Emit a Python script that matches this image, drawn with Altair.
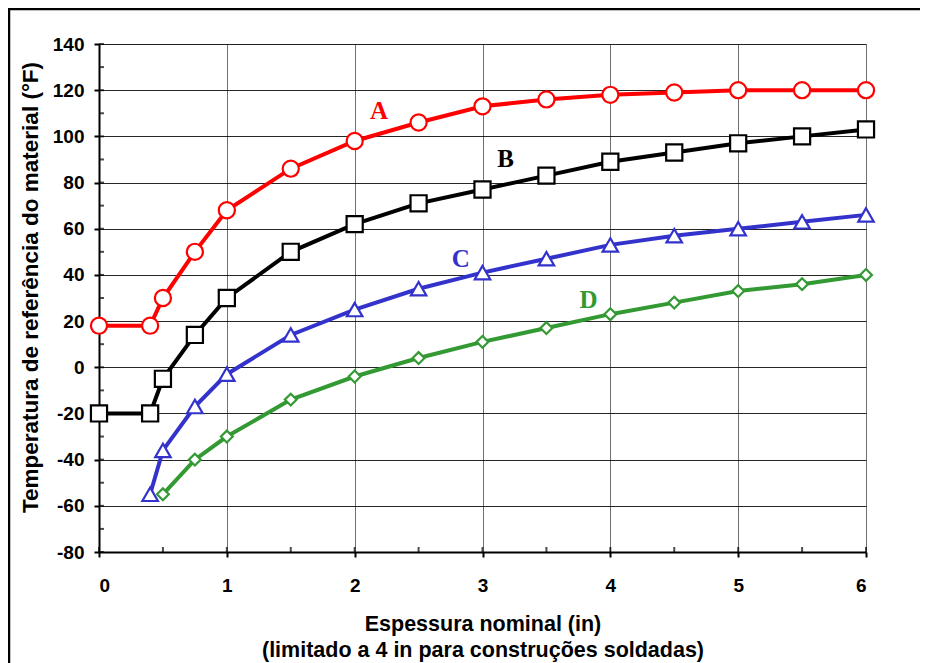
import altair as alt
import pandas as pd

x_a = [0, 0.4, 0.5, 0.75, 1, 1.5, 2, 2.5, 3, 3.5, 4, 4.5, 5, 5.5, 6]
y_a = [18, 18, 30, 50, 68, 86, 98, 106, 113, 116, 118, 119, 120, 120, 120]
x_b = [0, 0.4, 0.5, 0.75, 1, 1.5, 2, 2.5, 3, 3.5, 4, 4.5, 5, 5.5, 6]
y_b = [-20, -20, -5, 14, 30, 50, 62, 71, 77, 83, 89, 93, 97, 100, 103]
x_c = [0.4, 0.5, 0.75, 1, 1.5, 2, 2.5, 3, 3.5, 4, 4.5, 5, 5.5, 6]
y_c = [-55, -36, -17, -3, 14, 25, 34, 41, 47, 53, 57, 60, 63, 66]
x_d = [0.5, 0.75, 1, 1.5, 2, 2.5, 3, 3.5, 4, 4.5, 5, 5.5, 6]
y_d = [-55, -40, -30, -14, -4, 4, 11, 17, 23, 28, 33, 36, 40]

label_text = ["A", "B", "C", "D"]
label_x = [2.19, 3.18, 2.83, 3.83]
label_y = [111, 90, 47, 29]

colors = ["#FF0000", "#000000", "#3333CC", "#339933"]

x_minor = [i * 0.5 for i in range(13)]
y_minor = [-80 + 10 * i for i in range(23)]

W, H = 767, 508
FONT = "Liberation Sans"

xs = alt.Scale(domain=[0, 6], nice=False)
ys = alt.Scale(domain=[-80, 140], nice=False)

x_axis = alt.Axis(values=[0, 1, 2, 3, 4, 5, 6], labelExpr="'' + datum.value", grid=True,
                  gridColor="#707070", gridOpacity=1, gridWidth=1, domainColor="black", domainWidth=2,
                  tickColor="black", tickWidth=2, tickSize=5, labelPadding=19,
                  labelFont=FONT, labelFontSize=19, labelFontWeight="bold", labelColor="black",
                  titleFont=FONT, titleFontSize=21.5, titleFontWeight="bold", titleColor="black",
                  titlePadding=18, titleLineHeight=26,
                  title=["Espessura nominal (in)", "(limitado a 4 in para construções soldadas)"])
y_axis = alt.Axis(values=list(range(-80, 141, 20)), labelExpr="'' + datum.value", grid=True,
                  gridColor="#000000", gridOpacity=0.85, gridWidth=1, domainColor="black", domainWidth=2,
                  tickColor="black", tickWidth=2, tickSize=5, labelPadding=10,
                  labelFont=FONT, labelFontSize=19, labelFontWeight="bold", labelColor="black",
                  titleFont=FONT, titleFontSize=22.5, titleFontWeight="bold", titleColor="black",
                  titlePadding=10, titleY=243, title="Temperatura de referência do material (°F)")

X = lambda: alt.X("x:Q", scale=xs, axis=x_axis)
Y = lambda: alt.Y("y:Q", scale=ys, axis=y_axis)

series = [
    (x_a, y_a, "circle", 260, 0),
    (x_b, y_b, "square", 260, 1),
    (x_c, y_c, "triangle-up", 240, 2),
    (x_d, y_d, "diamond", 140, 3),
]

layers = []
for xv, yv, shape, size, ci in series:
    df = pd.DataFrame({"x": xv, "y": yv})
    line = alt.Chart(df).mark_line(color=colors[ci], strokeWidth=4).encode(x=X(), y=Y())
    pts = alt.Chart(df).mark_point(shape=shape, size=size, filled=True, fill="white",
                                   stroke=colors[ci], strokeWidth=2.2, opacity=1).encode(x=X(), y=Y())
    layers += [line, pts]

lab_df = pd.DataFrame({"t": label_text, "x": label_x, "y": label_y, "c": colors})
labels = alt.Chart(lab_df).mark_text(font="Liberation Serif", fontSize=25, fontWeight="bold").encode(
    x=X(), y=Y(), text="t:N", color=alt.Color("c:N", scale=None))

xm = alt.Chart(pd.DataFrame({"x": x_minor})).mark_tick(orient="vertical", color="black",
                                                       thickness=2, size=5).encode(
    x=X(), y=alt.value(H - 2.5))
ym = alt.Chart(pd.DataFrame({"y": y_minor})).mark_tick(orient="horizontal", color="black",
                                                       thickness=2, size=5).encode(
    y=Y(), x=alt.value(2.5))

frame = alt.Chart(pd.DataFrame({"d": [0]})).mark_rect(fill=None, stroke="black", strokeWidth=2.5,
                                                     clip=False).encode(
    x=alt.value(-90), x2=alt.value(W + 120), y=alt.value(-35), y2=alt.value(H + 140))

chart = alt.layer(frame, xm, ym, *layers, labels).properties(
    width=W, height=H, autosize=alt.AutoSizeParams(type="none"),
    padding={"left": 91, "top": 36, "right": 54, "bottom": 111},
).configure_view(stroke=None).configure(background="white")

chart.save("out.html", embed_options={"renderer": "svg", "actions": False})
